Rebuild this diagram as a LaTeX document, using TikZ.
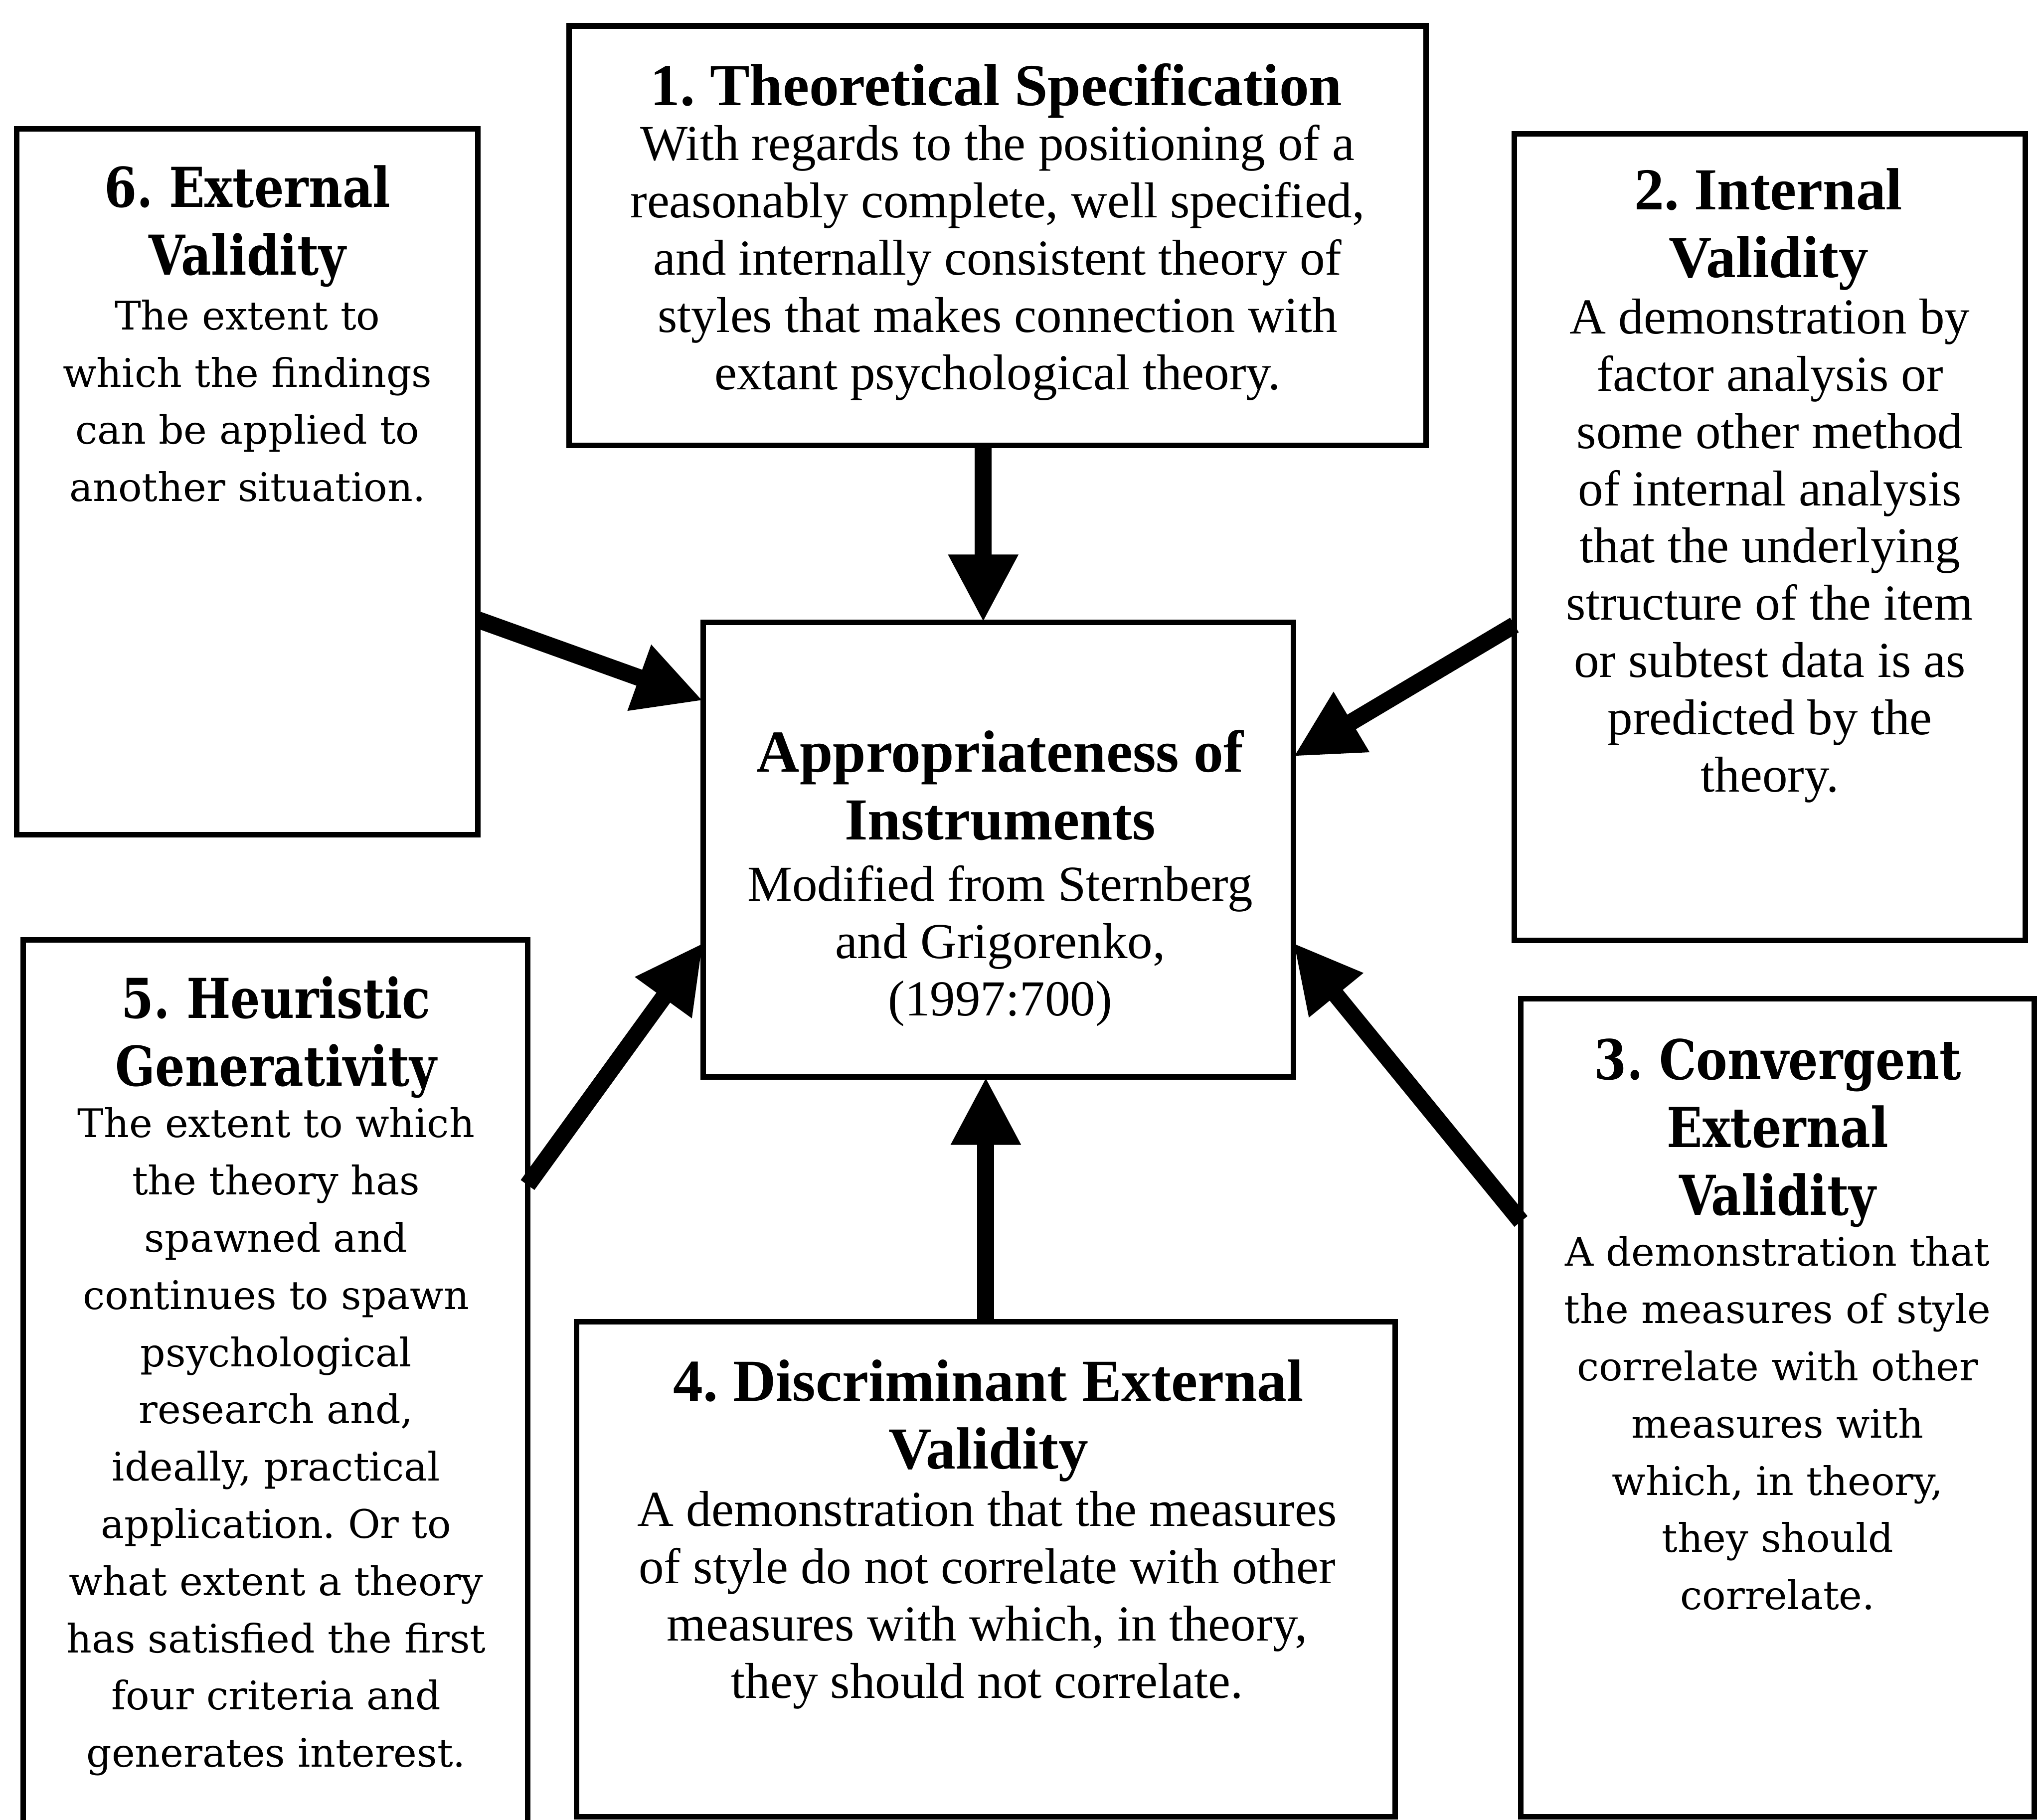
\documentclass[tikz,border=0pt]{standalone}
\usepackage{fontspec}
\setmainfont{Liberation Serif}
\newfontfamily\wideserif{DejaVu Serif}
\newfontfamily\widettlserif[FakeStretch=0.85]{DejaVu Serif}
\usetikzlibrary{arrows.meta}
\frenchspacing

% type sizes
\newcommand\TtlFont{\fontsize{13}{14.8}\selectfont\bfseries}
\newcommand\BdyFont{\fontsize{11}{12.5}\selectfont}
\newcommand\WTtlFont{\widettlserif\fontsize{12}{14.8}\selectfont\bfseries}
\newcommand\WBdyFont{\wideserif\fontsize{8.6}{12.5}\selectfont}

\begin{document}
\begin{tikzpicture}[x=0.01cm, y=-0.01cm,
  frame/.style={draw, line width=1.2pt, fill=white, inner sep=0pt, outer sep=0pt},
  % text nodes are placed by the baseline of their last line
  ttl/.style={anchor=base, align=center, inner sep=0pt, font=\TtlFont},
  bdy/.style={anchor=base, align=center, inner sep=0pt, font=\BdyFont},
  wttl/.style={anchor=base, align=center, inner sep=0pt, font=\WTtlFont},
  wbdy/.style={anchor=base, align=center, inner sep=0pt, font=\WBdyFont},
  arr/.style={line width=0.13cm, line cap=butt,
    -{Triangle[length=0.52cm, width=0.5cm]}}
]
\clip (0,0) rectangle (1568,1397.6);

% boxes
\node[frame, minimum width=6.58cm, minimum height=3.22cm] (b1) at (766,181) {};
\node[frame, minimum width=3.54cm, minimum height=5.42cm] (b6) at (190,370) {};
\node[frame, minimum width=3.92cm, minimum height=6.19cm] (b2) at (1359,412.5) {};
\node[frame, minimum width=4.53cm, minimum height=3.49cm] (c) at (766.5,652.5) {};
\node[frame, minimum width=3.87cm, minimum height=7.08cm] (b5) at (211.5,1076) {};
\node[frame, minimum width=6.28cm, minimum height=3.80cm] (b4) at (757,1205) {};
\node[frame, minimum width=3.94cm, minimum height=6.28cm] (b3) at (1365,1081) {};

% 1. Theoretical Specification
\node[ttl] (t1) at (765,81) {1. Theoretical Specification};
\node[bdy] (d1) at (766,299) {With regards to the positioning of a\\reasonably complete, well specified,\\and internally consistent theory of\\styles that makes connection with\\extant psychological theory.};

% 6. External Validity
\node[wttl] (t6) at (190,211) {6. External\\Validity};
\node[wbdy] (d6) at (190,385) {The extent to\\which the findings\\can be applied to\\another situation.};

% 2. Internal Validity
\node[ttl] (t2) at (1358,213) {2. Internal\\Validity};
\node[bdy] (d2) at (1359,608) {A demonstration by\\factor analysis or\\some other method\\of internal analysis\\that the underlying\\structure of the item\\or subtest data is as\\predicted by the\\theory.};

% centre
\node[ttl] (tc) at (768,645) {Appropriateness of\\Instruments};
\node[bdy] (dc) at (768,780) {Modified from Sternberg\\and Grigorenko,\\(1997:700)};

% 5. Heuristic Generativity
\node[wttl] (t5) at (212,834) {5. Heuristic\\Generativity};
\node[wbdy] (d5) at (212,1357) {The extent to which\\the theory has\\spawned and\\continues to spawn\\psychological\\research and,\\ideally, practical\\application. Or to\\what extent a theory\\has satisfied the first\\four criteria and\\generates interest.};

% 4. Discriminant External Validity
\node[ttl] (t4) at (759,1128) {4. Discriminant External\\Validity};
\node[bdy] (d4) at (758,1304) {A demonstration that the measures\\of style do not correlate with other\\measures with which, in theory,\\they should not correlate.};

% 3. Convergent External Validity
\node[wttl] (t3) at (1365,933) {3. Convergent\\External\\Validity};
\node[wbdy] (d3) at (1365,1236) {A demonstration that\\the measures of style\\correlate with other\\measures with\\which, in theory,\\they should\\correlate.};

% connectors into the centre box
\draw[arr] (b1.south -| 755,0) -- (c.north -| 755,0);
\draw[arr] (b6.east |- 0,476) -- (c.west |- 0,538);
\draw[arr] (b2.west |- 0,480) -- (c.east |- 0,581);
\draw[arr] (b5.east |- 0,910) -- (c.west |- 0,724);
\draw[arr] (b4.north -| 757,0) -- (c.south -| 757,0);
\draw[arr] (b3.west |- 0,938) -- (c.east |- 0,724);
\end{tikzpicture}
\end{document}
